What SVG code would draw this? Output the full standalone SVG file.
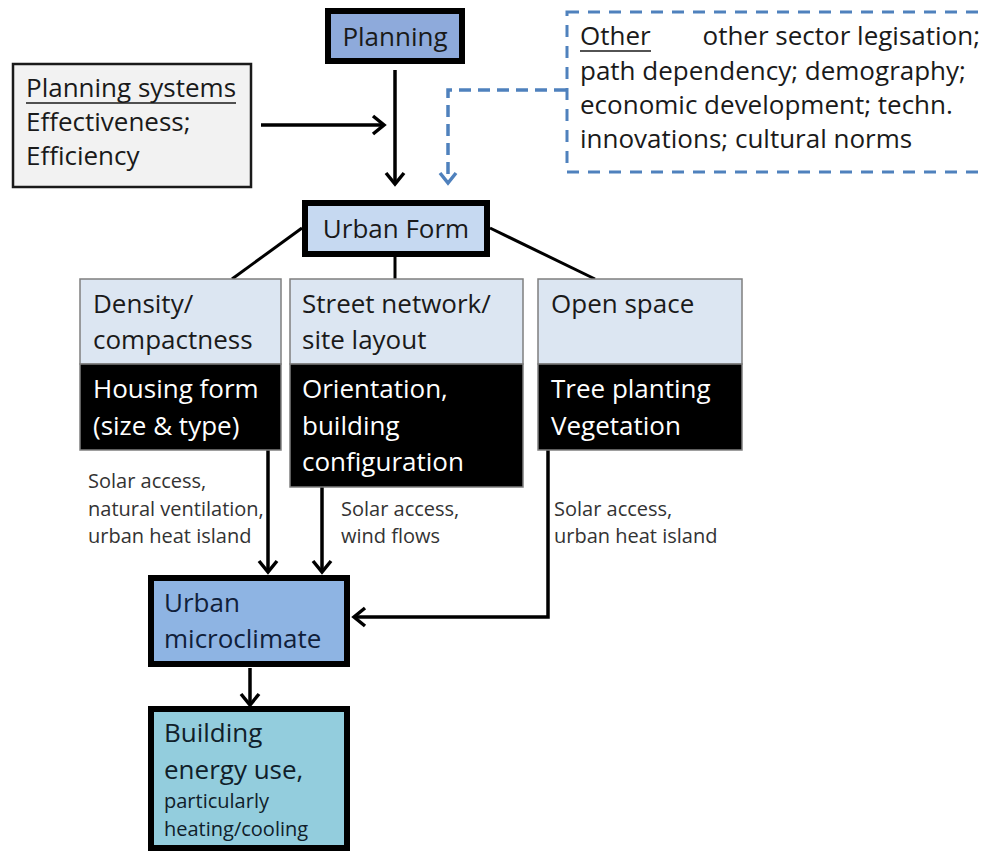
<svg xmlns="http://www.w3.org/2000/svg" width="985" height="852" viewBox="0 0 985 852">
<defs>
<marker id="ah" markerUnits="userSpaceOnUse" markerWidth="30" markerHeight="30" viewBox="-15 -15 30 30" refX="0" refY="0" orient="auto">
<path d="M-11,-9 L0,0 L-11,9" fill="none" stroke="#000" stroke-width="3.5"/>
</marker>
<marker id="ahb" markerUnits="userSpaceOnUse" markerWidth="30" markerHeight="30" viewBox="-15 -15 30 30" refX="0" refY="0" orient="auto">
<path d="M-10,-8 L0,0 L-10,8" fill="none" stroke="#4f81bd" stroke-width="3.5"/>
</marker>
</defs>
<style>
text{font-family:"Open Sans",Lato,"Liberation Sans",sans-serif;fill:#1a1a1a}
.t{font-size:26px}
.s{font-size:20px;fill:#333}
.w{fill:#fff;font-size:26px}
.thick{stroke:#000;stroke-width:6}
.light{fill:#dce6f2;stroke:#7f7f7f;stroke-width:1.5}
.blk{fill:#000;stroke:#7f7f7f;stroke-width:1.5}
.con{fill:none;stroke:#000;stroke-width:3.5}
</style>
<rect width="985" height="852" fill="#fff"/>

<g id="connectors">
<line class="con" x1="395" y1="70" x2="395" y2="184" marker-end="url(#ah)"/>
<line class="con" x1="261" y1="125" x2="384" y2="125" marker-end="url(#ah)"/>
<path d="M566,90 L448,90 L448,183" fill="none" stroke="#4f81bd" stroke-width="3.5" stroke-dasharray="12,7" marker-end="url(#ahb)"/>
<line x1="302" y1="228" x2="232" y2="279" stroke="#000" stroke-width="3"/>
<line x1="395" y1="256" x2="395" y2="279" stroke="#000" stroke-width="3"/>
<line x1="490" y1="228" x2="595" y2="279" stroke="#000" stroke-width="3"/>
<line class="con" x1="268" y1="450" x2="268" y2="572" marker-end="url(#ah)"/>
<line class="con" x1="322" y1="487" x2="322" y2="572" marker-end="url(#ah)"/>
<path class="con" d="M548,450 L548,617 L354,617" marker-end="url(#ah)"/>
<line class="con" x1="250" y1="668" x2="250" y2="705" marker-end="url(#ah)"/>
</g>

<g id="planning">
<rect x="328" y="11" width="134" height="50" fill="#8eaadb" class="thick"/>
<text class="t" x="395" y="46" text-anchor="middle">Planning</text>
</g>

<g id="planning-systems">
<rect x="13" y="64" width="238" height="123" fill="#f2f2f2" stroke="#1a1a1a" stroke-width="2.5"/>
<text class="t" x="26" y="97">Planning systems</text>
<line x1="26" y1="103" x2="236" y2="103" stroke="#1a1a1a" stroke-width="1.5"/>
<text class="t" x="26" y="131">Effectiveness;</text>
<text class="t" x="26" y="165">Efficiency</text>
</g>

<g id="other">
<rect x="567" y="12" width="430" height="160" fill="none" stroke="#4f81bd" stroke-width="3" stroke-dasharray="12,9"/>
<text class="t" x="580" y="45">Other</text>
<line x1="580" y1="51" x2="651" y2="51" stroke="#1a1a1a" stroke-width="1.5"/>
<text class="t" x="980" y="45" text-anchor="end">other sector legisation;</text>
<text class="t" x="580" y="80">path dependency; demography;</text>
<text class="t" x="580" y="114">economic development; techn.</text>
<text class="t" x="580" y="148">innovations; cultural norms</text>
</g>

<g id="urban-form">
<rect x="305" y="203" width="182" height="51" fill="#c6d9f1" class="thick"/>
<text class="t" x="396" y="238" text-anchor="middle">Urban Form</text>
</g>

<g id="density">
<rect x="80" y="279" width="201" height="85" class="light"/>
<rect x="80" y="364" width="201" height="86" class="blk"/>
<text class="t" x="93" y="313">Density/</text>
<text class="t" x="93" y="349">compactness</text>
<text class="w" x="93" y="398">Housing form</text>
<text class="w" x="93" y="435">(size &amp; type)</text>
</g>

<g id="street">
<rect x="290" y="279" width="233" height="85" class="light"/>
<rect x="290" y="364" width="233" height="123" class="blk"/>
<text class="t" x="302" y="313">Street network/</text>
<text class="t" x="302" y="349">site layout</text>
<text class="w" x="302" y="398">Orientation,</text>
<text class="w" x="302" y="435">building</text>
<text class="w" x="302" y="471">configuration</text>
</g>

<g id="open-space">
<rect x="538" y="279" width="204" height="85" class="light"/>
<rect x="538" y="364" width="204" height="86" class="blk"/>
<text class="t" x="551" y="313">Open space</text>
<text class="w" x="551" y="398">Tree planting</text>
<text class="w" x="551" y="435">Vegetation</text>
</g>

<g id="labels">
<text class="s" x="88" y="488">Solar access,</text>
<text class="s" x="88" y="516">natural ventilation,</text>
<text class="s" x="88" y="543">urban heat island</text>
<text class="s" x="341" y="516">Solar access,</text>
<text class="s" x="341" y="543">wind flows</text>
<text class="s" x="554" y="516">Solar access,</text>
<text class="s" x="554" y="543">urban heat island</text>
</g>

<g id="urban-microclimate">
<rect x="151" y="578" width="196" height="86" fill="#8eb4e3" class="thick"/>
<text class="t" x="164" y="612" style="fill:#10203a">Urban</text>
<text class="t" x="164" y="648" style="fill:#10203a">microclimate</text>
</g>

<g id="building-energy">
<rect x="151" y="709" width="196" height="139" fill="#93cddd" class="thick"/>
<text class="t" x="164" y="742" style="fill:#10202a">Building</text>
<text class="t" x="164" y="779" style="fill:#10202a">energy use,</text>
<text class="s" x="164" y="808" style="fill:#10202a">particularly</text>
<text class="s" x="164" y="836" style="fill:#10202a">heating/cooling</text>
</g>
</svg>
